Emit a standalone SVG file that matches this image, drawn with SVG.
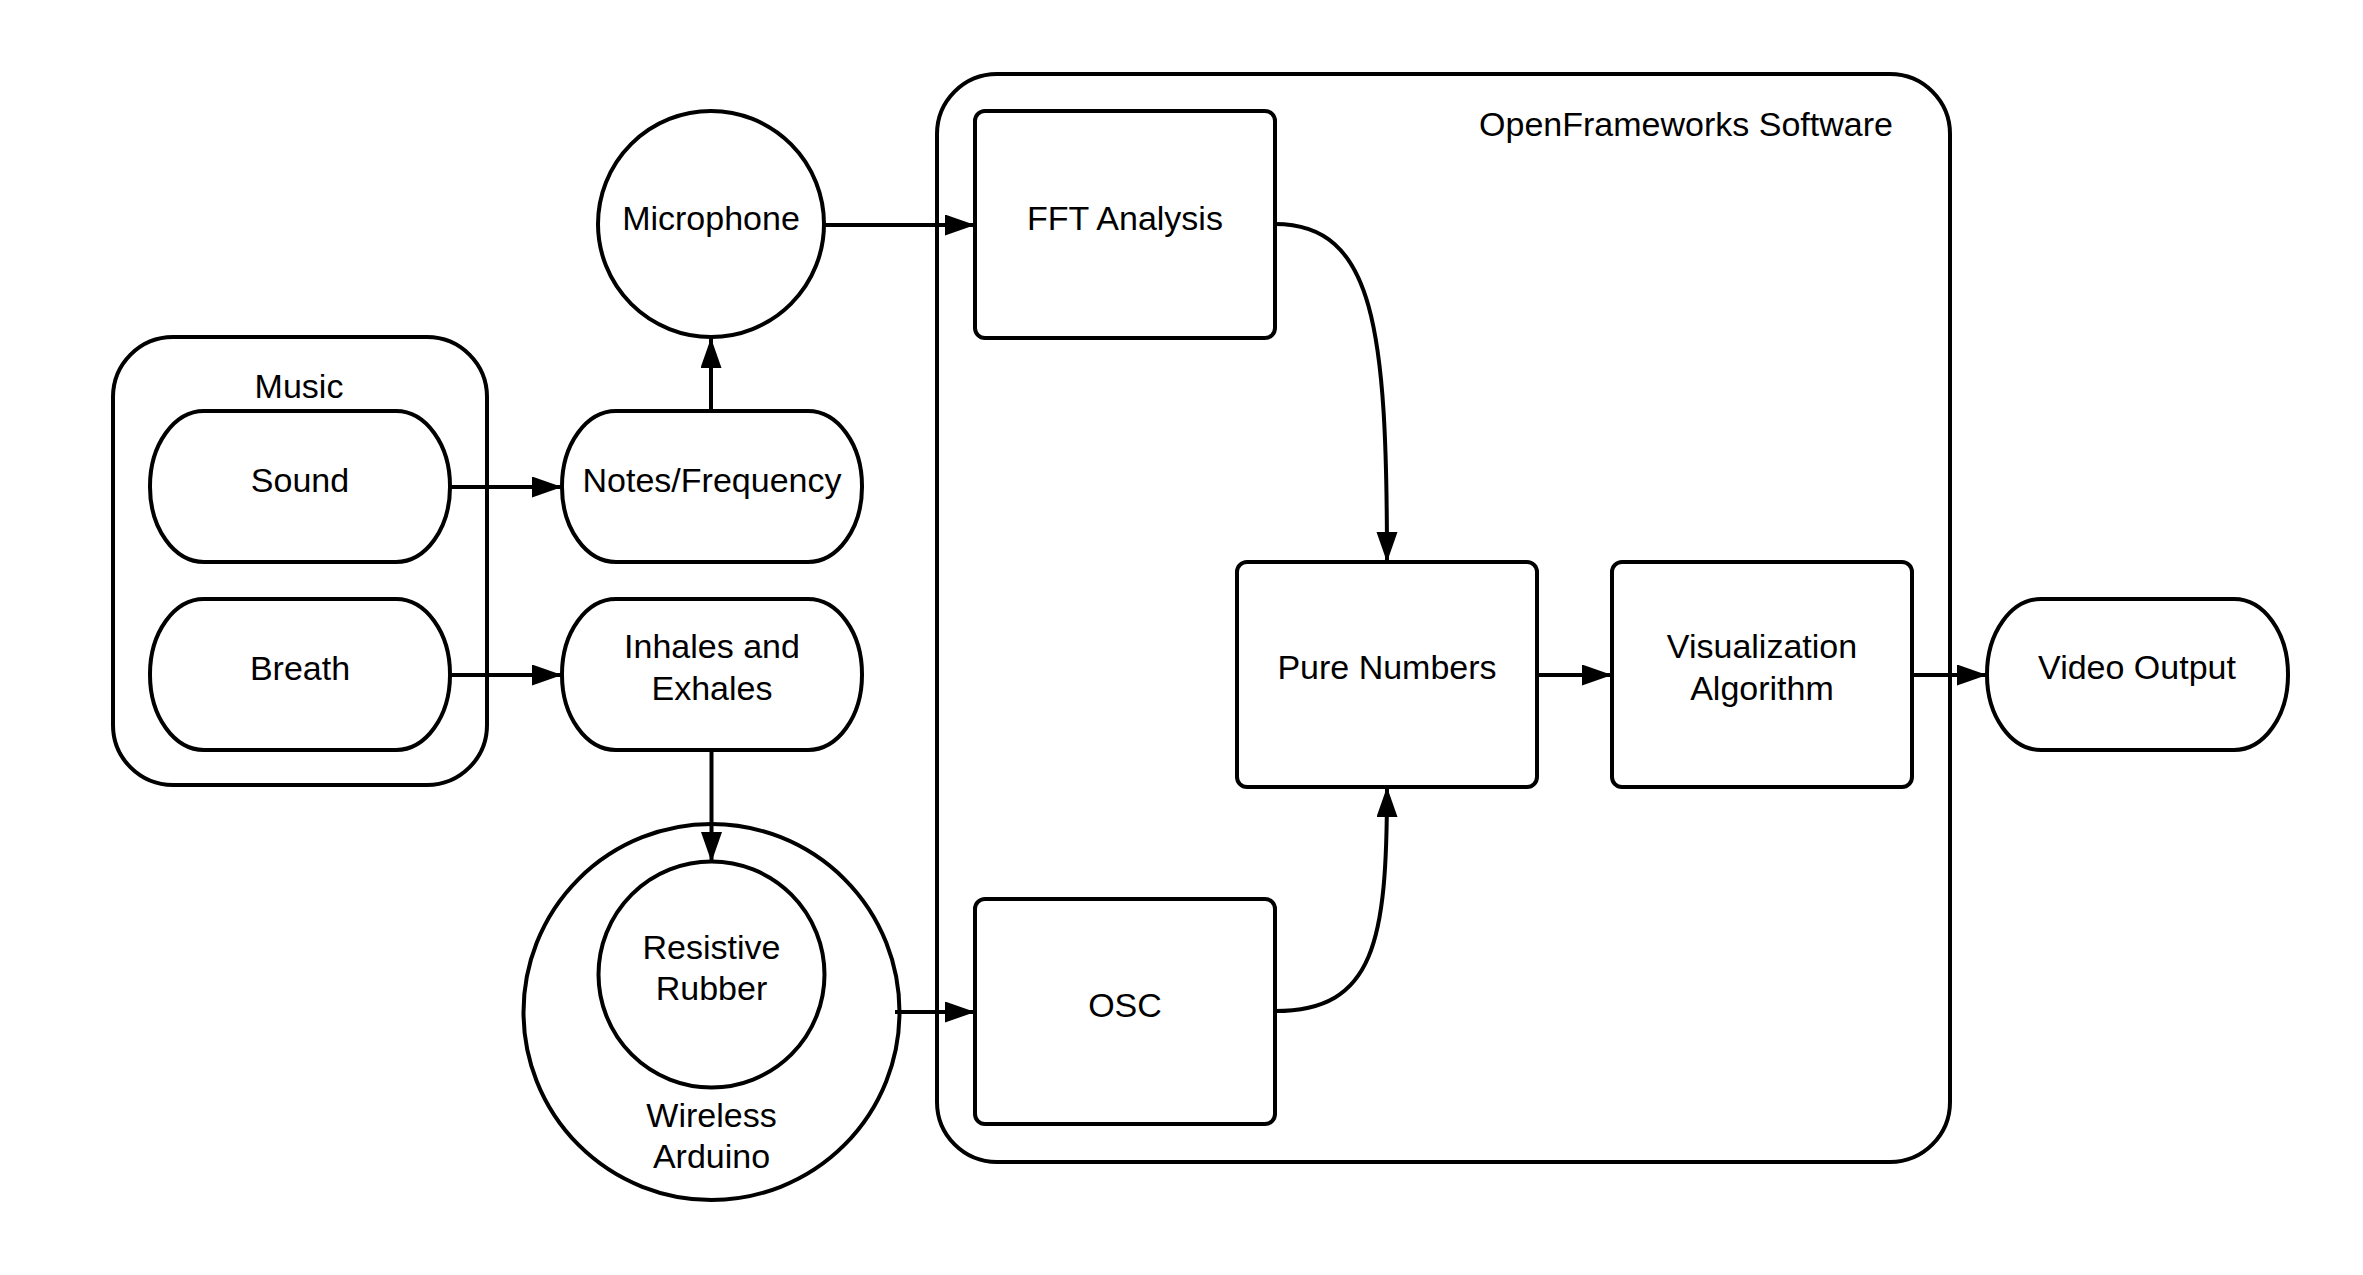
<svg xmlns="http://www.w3.org/2000/svg" width="2363" height="1275" viewBox="0 0 2363 1275">
<style>
.shape{fill:#ffffff;stroke:#000000;stroke-width:4}
.container{fill:none;stroke:#000000;stroke-width:4}
.conn{fill:none;stroke:#000000;stroke-width:4}
text{font-family:"Liberation Sans",Arial,sans-serif;font-size:34px;fill:#000000;text-anchor:middle}
</style>
<defs>
<marker id="arrow" markerUnits="userSpaceOnUse" markerWidth="31" markerHeight="22" refX="30" refY="10.5" orient="auto" viewBox="0 0 31 22">
<path d="M0,0 L30,10.5 L0,21 Z" fill="#000000"/>
</marker>
</defs>
<rect width="2363" height="1275" fill="#ffffff"/>
<g id="music">
<rect class="container" x="113" y="337" width="374" height="448" rx="60" ry="60"/>
<text x="299" y="398">Music</text>
</g>
<g id="openframeworks">
<rect class="container" x="937" y="74" width="1013" height="1088" rx="60" ry="60"/>
<text x="1686" y="136">OpenFrameworks Software</text>
</g>
<g id="sound">
<rect class="shape" x="150" y="411" width="300" height="151" rx="54" ry="75"/>
<text x="300" y="492">Sound</text>
</g>
<g id="breath">
<rect class="shape" x="150" y="599" width="300" height="151" rx="54" ry="75"/>
<text x="300" y="680">Breath</text>
</g>
<g id="notes">
<rect class="shape" x="562" y="411" width="300" height="151" rx="54" ry="75"/>
<text x="712" y="492">Notes/Frequency</text>
</g>
<g id="inhales">
<rect class="shape" x="562" y="599" width="300" height="151" rx="54" ry="75"/>
<text x="712" y="658">Inhales and</text>
<text x="712" y="700">Exhales</text>
</g>
<g id="microphone">
<circle class="shape" cx="711" cy="224" r="113"/>
<text x="711" y="230">Microphone</text>
</g>
<g id="arduino">
<circle class="shape" cx="711.5" cy="1012" r="188"/>
<text x="711.5" y="1127">Wireless</text>
<text x="711.5" y="1168">Arduino</text>
</g>
<g id="rubber">
<circle class="shape" cx="711.5" cy="974.5" r="113"/>
<text x="711.5" y="959">Resistive</text>
<text x="711.5" y="1000">Rubber</text>
</g>
<g id="fft">
<rect class="shape" x="975" y="111" width="300" height="227" rx="10" ry="10"/>
<text x="1125" y="230">FFT Analysis</text>
</g>
<g id="osc">
<rect class="shape" x="975" y="899" width="300" height="225" rx="10" ry="10"/>
<text x="1125" y="1017">OSC</text>
</g>
<g id="pure">
<rect class="shape" x="1237" y="562" width="300" height="225" rx="10" ry="10"/>
<text x="1387" y="679">Pure Numbers</text>
</g>
<g id="visualization">
<rect class="shape" x="1612" y="562" width="300" height="225" rx="10" ry="10"/>
<text x="1762" y="658">Visualization</text>
<text x="1762" y="700">Algorithm</text>
</g>
<g id="video">
<rect class="shape" x="1987" y="599" width="301" height="151" rx="54" ry="75"/>
<text x="2137" y="679">Video Output</text>
</g>
<g id="connectors">
<line class="conn" x1="450" y1="487" x2="562" y2="487" marker-end="url(#arrow)"/>
<line class="conn" x1="450" y1="675" x2="562" y2="675" marker-end="url(#arrow)"/>
<line class="conn" x1="711" y1="411" x2="711" y2="338" marker-end="url(#arrow)"/>
<line class="conn" x1="824" y1="225" x2="975" y2="225" marker-end="url(#arrow)"/>
<line class="conn" x1="711.5" y1="750" x2="711.5" y2="862" marker-end="url(#arrow)"/>
<line class="conn" x1="895" y1="1012" x2="975" y2="1012" marker-end="url(#arrow)"/>
<path class="conn" d="M1275,224 C1375,224 1387,330 1387,562" marker-end="url(#arrow)"/>
<path class="conn" d="M1275,1011 C1375,1011 1387,941 1387,787" marker-end="url(#arrow)"/>
<line class="conn" x1="1537" y1="675" x2="1612" y2="675" marker-end="url(#arrow)"/>
<line class="conn" x1="1912" y1="675" x2="1987" y2="675" marker-end="url(#arrow)"/>
</g>
</svg>
